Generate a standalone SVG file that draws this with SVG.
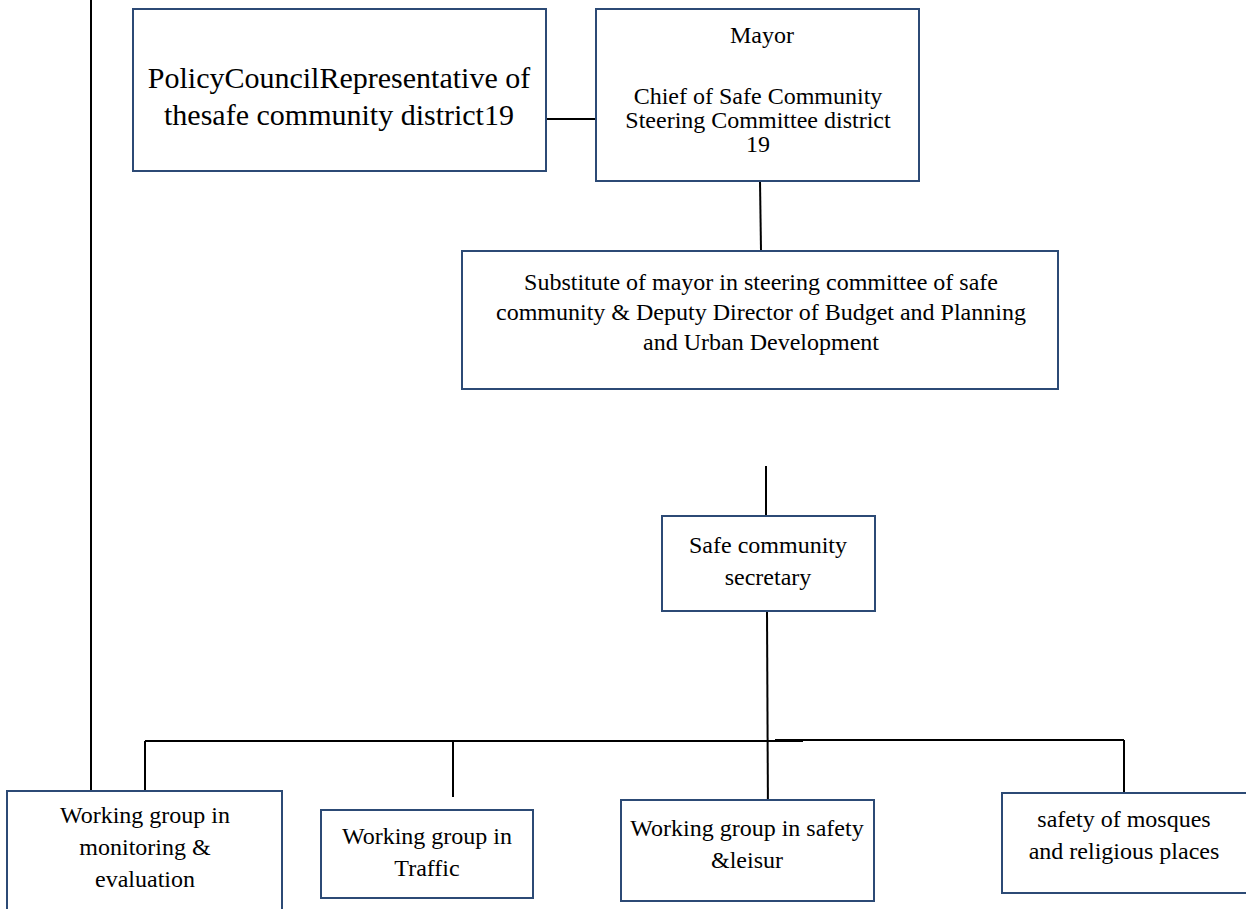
<svg xmlns="http://www.w3.org/2000/svg" width="1246" height="909" viewBox="0 0 1246 909">
<style>
.box{fill:#fff;stroke:#2c4a75;stroke-width:2}
.ln{stroke:#000;stroke-width:2;fill:none}
text{font-family:"Liberation Serif","Times New Roman",serif;font-size:24px;fill:#000;text-anchor:middle}
.big{font-size:30px}
</style>
<rect width="1246" height="909" fill="#fff"/>
<g id="connectors">
<line class="ln" x1="91" y1="0" x2="91" y2="791"/>
<line class="ln" x1="546" y1="119" x2="596" y2="119"/>
<line class="ln" x1="760" y1="181" x2="761" y2="251"/>
<line class="ln" x1="766" y1="466" x2="766" y2="516"/>
<line class="ln" x1="767" y1="611" x2="768" y2="820"/>
<line class="ln" x1="145" y1="741" x2="803" y2="741"/>
<line class="ln" x1="775" y1="740" x2="1124" y2="740"/>
<line class="ln" x1="145" y1="741" x2="145" y2="797"/>
<line class="ln" x1="453" y1="741" x2="453" y2="797"/>
<line class="ln" x1="1124" y1="740" x2="1124" y2="793"/>
</g>
<g id="policy">
<rect class="box" x="133" y="9" width="413" height="162"/>
<text class="big" x="339" y="88">PolicyCouncilRepresentative of</text>
<text class="big" x="339" y="125">thesafe community district19</text>
</g>
<g id="mayor">
<rect class="box" x="596" y="9" width="323" height="172"/>
<text x="762" y="43">Mayor</text>
<text x="758" y="104">Chief of Safe Community</text>
<text x="758" y="128">Steering Committee district</text>
<text x="758" y="152">19</text>
</g>
<g id="substitute">
<rect class="box" x="462" y="251" width="596" height="138"/>
<text x="761" y="290">Substitute of mayor in steering committee of safe</text>
<text x="761" y="320">community &amp; Deputy Director of Budget and Planning</text>
<text x="761" y="350">and Urban Development</text>
</g>
<g id="secretary">
<rect class="box" x="662" y="516" width="213" height="95"/>
<text x="768" y="553">Safe community</text>
<text x="768" y="585">secretary</text>
</g>
<g id="wg-monitoring">
<rect class="box" x="7" y="791" width="275" height="130"/>
<text x="145" y="823">Working group in</text>
<text x="145" y="855">monitoring &amp;</text>
<text x="145" y="887">evaluation</text>
</g>
<g id="wg-traffic">
<rect class="box" x="321" y="810" width="212" height="88"/>
<text x="427" y="844">Working group in</text>
<text x="427" y="876">Traffic</text>
</g>
<g id="wg-safety">
<rect class="box" x="621" y="800" width="253" height="101"/>
<text x="747" y="836">Working group in safety</text>
<text x="747" y="868">&amp;leisur</text>
</g>
<g id="mosques">
<rect class="box" x="1002" y="793" width="260" height="100"/>
<text x="1124" y="827">safety of mosques</text>
<text x="1124" y="859">and religious places</text>
</g>
</svg>
